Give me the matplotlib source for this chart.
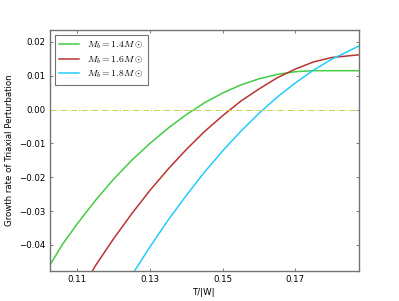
import numpy as np
import matplotlib
matplotlib.use("Agg")
import matplotlib.pyplot as plt

# values (T/|W|, growth rate)
t_14 = [0.1025, 0.106, 0.110, 0.115, 0.120, 0.125, 0.130, 0.135, 0.140, 0.145,
        0.150, 0.155, 0.160, 0.165, 0.170, 0.175, 0.180, 0.1875]
g_14 = [-0.0460, -0.0398, -0.0338, -0.0269, -0.0206, -0.0150, -0.0100, -0.0055,
        -0.0015, 0.0020, 0.0049, 0.0073, 0.0091, 0.0104, 0.0112, 0.0115, 0.0115, 0.0115]

t_16 = [0.1130, 0.115, 0.120, 0.125, 0.130, 0.135, 0.140, 0.145, 0.150, 0.155,
        0.160, 0.165, 0.170, 0.175, 0.180, 0.1875]
g_16 = [-0.0500, -0.0462, -0.0382, -0.0308, -0.0239, -0.0176, -0.0118, -0.0065,
        -0.0018, 0.0025, 0.0061, 0.0094, 0.0120, 0.0141, 0.0154, 0.0162]

t_18 = [0.125, 0.130, 0.135, 0.140, 0.145, 0.150, 0.155, 0.160, 0.165, 0.170,
        0.175, 0.180, 0.1875]
g_18 = [-0.0490, -0.0406, -0.0327, -0.0254, -0.0185, -0.0122, -0.0064, -0.0011,
        0.0037, 0.0079, 0.0117, 0.0149, 0.0188]

labels = [r'$M_b=1.4M\odot$', r'$M_b=1.6M\odot$', r'$M_b=1.8M\odot$']
xticks = [0.11, 0.13, 0.15, 0.17]
yticks = [-0.04, -0.03, -0.02, -0.01, 0.00, 0.01, 0.02]

plt.rcParams['mathtext.fontset'] = 'cm'
plt.rcParams['font.size'] = 6.2

fig = plt.figure(figsize=(3.99, 3.01), dpi=100)
ax = fig.add_axes([0.125, 0.1, 0.775, 0.8])

ax.plot(t_14, g_14, color='#44cc44', lw=1.1, label=labels[0])
ax.plot(t_16, g_16, color='#bb3333', lw=1.1, label=labels[1])
ax.plot(t_18, g_18, color='#22ccff', lw=1.1, label=labels[2])
ax.axhline(0.0, color='#cccc55', lw=0.7, ls='-.')

ax.set_xlim(0.1025, 0.1875)
ax.set_ylim(-0.0477, 0.0235)
ax.set_xticks(xticks)
ax.set_xticklabels(['%.2f' % v for v in xticks])
ax.set_yticks(yticks)
ax.set_yticklabels(['%.2f' % v if v >= 0 else '\u2212%.2f' % -v for v in yticks])
ax.tick_params(direction='in', top=True, right=True, length=2.5, width=0.6,
               color='0.4', pad=3, labelsize=6.2)
for s in ax.spines.values():
    s.set_color('0.45')
    s.set_linewidth(1.0)

ax.set_xlabel('T/|W|', fontsize=6.2, labelpad=3)
ax.set_ylabel('Growth rate of Triaxial Perturbation', fontsize=6.2, labelpad=4)

leg = ax.legend(loc='upper left', fontsize=7.0, handlelength=2.0, borderpad=0.45,
                labelspacing=0.3, handletextpad=0.9, fancybox=False, framealpha=1)
leg.get_frame().set_edgecolor('0.45')
leg.get_frame().set_linewidth(0.8)

fig.savefig('out.png', dpi=100)
